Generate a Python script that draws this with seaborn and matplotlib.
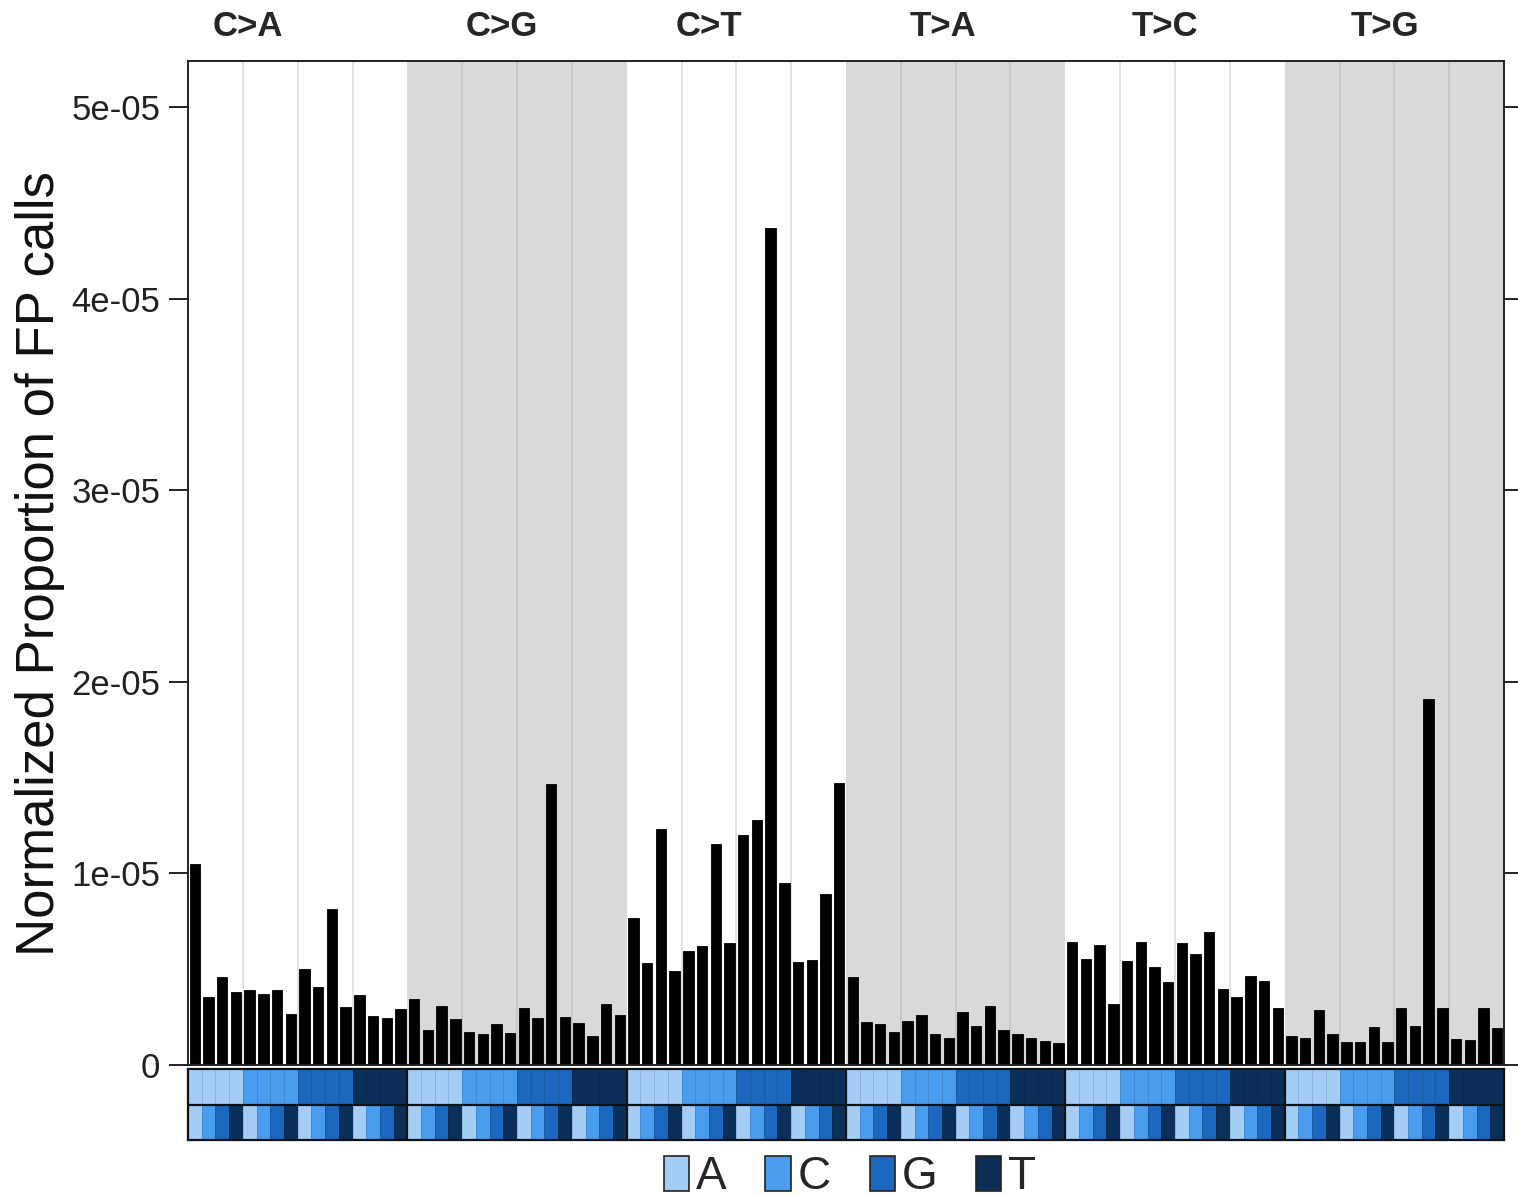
import numpy as np
import pandas as pd
import matplotlib
matplotlib.use("Agg")
import matplotlib.pyplot as plt
from matplotlib.colors import ListedColormap
from matplotlib.patches import Patch
from matplotlib.transforms import blended_transform_factory
import seaborn as sns

# Normalized proportion of FP calls per trinucleotide context (units of 1e-6)
mutation_types = ["C>A", "C>G", "C>T", "T>A", "T>C", "T>G"]
bases = ["A", "C", "G", "T"]
base_colors = ["#a4cdf6", "#4a9dee", "#1b68be", "#0c2f5a"]

ca = [10.5, 3.56, 4.58, 3.79, 3.90, 3.71, 3.90, 2.66, 5.01, 4.05, 8.16, 3.04, 3.65, 2.57, 2.45, 2.94]
cg = [3.43, 1.83, 3.08, 2.38, 1.74, 1.62, 2.14, 1.65, 2.96, 2.47, 14.65, 2.52, 2.21, 1.51, 3.18, 2.63]
ct = [7.66, 5.34, 12.3, 4.89, 5.97, 6.23, 11.55, 6.35, 12.0, 12.79, 43.7, 9.52, 5.38, 5.48, 8.94, 14.72]
ta = [4.58, 2.26, 2.12, 1.74, 2.30, 2.63, 1.63, 1.41, 2.75, 2.04, 3.10, 1.83, 1.63, 1.41, 1.27, 1.16]
tc = [6.44, 5.55, 6.25, 3.20, 5.41, 6.44, 5.11, 4.31, 6.38, 5.81, 6.94, 3.98, 3.55, 4.65, 4.38, 2.97]
tg = [1.51, 1.39, 2.87, 1.62, 1.18, 1.18, 2.00, 1.22, 2.96, 2.05, 19.1, 2.96, 1.36, 1.30, 2.96, 1.95]

ytick_values = [0, 1e-05, 2e-05, 3e-05, 4e-05, 5e-05]
ytick_labels = ["0", "1e-05", "2e-05", "3e-05", "4e-05", "5e-05"]
# x positions (in bar units) of the mutation-type headers
header_x = [3.9, 22.4, 37.5, 54.6, 70.8, 86.8]

series = [ca, cg, ct, ta, tc, tg]
rows = []
for mt, vals in zip(mutation_types, series):
    for k, v in enumerate(vals):
        five, three = bases[k // 4], bases[k % 4]
        rows.append({"context": f"{five}[{mt}]{three}", "value": v * 1e-6,
                     "five": k // 4, "three": k % 4})
df = pd.DataFrame(rows)
n = len(df)

sns.set_style("white")
plt.rcParams["font.family"] = ["Liberation Sans", "DejaVu Sans"]

W, H = 1518, 1196
fig = plt.figure(figsize=(W / 100, H / 100), dpi=100)

left, right = 188, 1504
ax = fig.add_axes([left / W, 1 - 1065 / H, (right - left) / W, (1065 - 61) / H])

# alternating backgrounds and light vertical guides
for g in range(6):
    x0 = g * 16 - 0.5
    if g % 2 == 1:
        ax.axvspan(x0, x0 + 16, color="#d9d9d9", zorder=0, lw=0)
    for k in (4, 8, 12):
        ax.axvline(x0 + k, color="#c4c4c4" if g % 2 == 1 else "#dddddd",
                   lw=1.2, zorder=0.5)

sns.barplot(data=df, x="context", y="value", color="black", width=0.76,
            edgecolor="black", linewidth=0.6, saturation=1, ax=ax, zorder=2)

ax.set_xlim(-0.5, n - 0.5)
ax.set_ylim(0, 5.24e-05)
ax.set_xlabel("")
ax.set_ylabel("")
ax.set_xticks([])
ax.set_yticks(ytick_values)
ax.set_yticklabels(ytick_labels, fontsize=25)
ax.tick_params(axis="y", direction="out", length=14, width=1.4, pad=6,
               left=True, right=True, labelright=False, colors="#222222",
               labelcolor="#222222")
for s in ax.spines.values():
    s.set_visible(True)
    s.set_color("#222222")
    s.set_linewidth(1.4)

trans = blended_transform_factory(ax.transData, ax.transAxes)
for mt, hx in zip(mutation_types, header_x):
    ax.text(hx, 1.034, mt, transform=trans, ha="center", va="center",
            fontsize=25, fontweight="bold")

fig.text(40 / W, 0.529, "Normalized Proportion of FP calls", rotation=90,
         ha="center", va="center", fontsize=38, color="#111111")

# context strip: 5' base on top, 3' base below
sax = fig.add_axes([left / W, 1 - 1140 / H, (right - left) / W, 71 / H])
strip = np.vstack([df["five"].to_numpy(), df["three"].to_numpy()])
sns.heatmap(strip, ax=sax, cmap=ListedColormap(base_colors), vmin=-0.5, vmax=3.5,
            cbar=False, xticklabels=False, yticklabels=False,
            linewidths=0.4, linecolor=(0, 0, 0, 0.12))
sax.axhline(1, color="#111111", lw=1.6)
for g in range(1, 6):
    sax.axvline(g * 16, color="#111111", lw=1.6)
for s in sax.spines.values():
    s.set_visible(True)
    s.set_color("#111111")
    s.set_linewidth(1.6)

handles = [Patch(facecolor=c, edgecolor="#222222", lw=1.2) for c in base_colors]
fig.legend(handles, bases, loc="center", bbox_to_anchor=(850 / W, 1 - 1177 / H),
           ncol=4, frameon=False, fontsize=33, handlelength=0.55,
           handleheight=0.8, handletextpad=0.15, columnspacing=0.85)

fig.savefig("out.png", dpi=100)
